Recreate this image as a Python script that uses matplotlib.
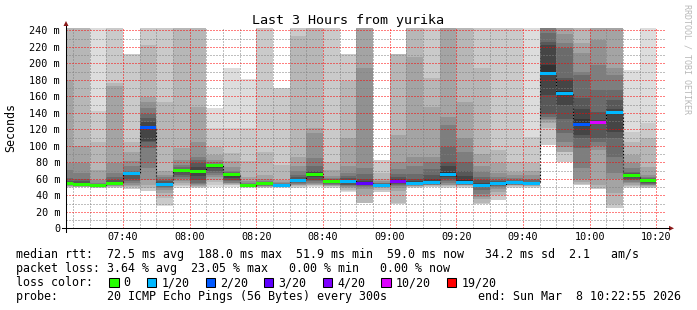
import numpy as np
import matplotlib
matplotlib.use('Agg')
import matplotlib.pyplot as plt
from matplotlib.lines import Line2D
from matplotlib.patches import Polygon, Rectangle

W, H = 697, 310
plt.rcParams['font.family'] = 'DejaVu Sans Mono'

# time axis in minutes after 07:00, graph covers 07:22:55 .. 10:22:55
t_start, t_end = 22 + 55 / 60, 202 + 55 / 60
step_start = np.arange(20, 200, 5)          # one 5 minute step per column
y_top = 242.4

# 20 sorted ping times per step (ms); 300 = above the top of the graph
pings = [
    [49.3, 50, 50.5, 51, 51.5, 52, 52.5, 53, 53.5, 54.5, 55, 55.5, 57.4, 60.6, 70.7, 78.8, 180, 300, 300, 300],
    [49.5, 50, 50.2, 50.5, 50.7, 51, 51.2, 51.5, 52, 52.5, 53.5, 55, 57, 60, 67, 79, 100, 300, 300, 300],
    [48.5, 49, 49.5, 50, 50.5, 50.8, 51, 51.2, 51.4, 51.7, 52, 52.3, 52.8, 53.5, 55, 58, 71, 105, 142.6, 300],
    [48.5, 49.5, 50, 51, 51.5, 52, 53, 53.5, 54, 54.5, 55, 56, 58, 62, 67, 79, 172, 176, 300, 300],
    [47.7, 47.7, 49.5, 51, 53, 55, 57, 60, 64, 66.7, 67, 67.5, 68, 70, 75, 81, 92, 105, 211, 211],
    [45.6, 45.6, 48.5, 52.5, 58.5, 72.7, 97, 104, 106, 122.4, 124, 129.3, 134, 138, 145.4, 152.6, 159.6, 222, 300, 300],
    [27, 28.3, 36.4, 43, 47, 49, 50.5, 51.5, 52.5, 53.3, 54, 55, 57, 59, 62, 65, 69, 152.7, 300, 300],
    [48.5, 51, 53, 55, 57, 60, 62, 65, 68, 69.9, 70.5, 71, 72, 74, 77, 83, 97, 300, 300, 300],
    [49.3, 50, 50.5, 51.5, 52.5, 53.5, 55, 58, 63, 69, 70.5, 74, 79, 83, 87, 105, 146.6, 300, 300, 300],
    [50.4, 53, 56.5, 59, 62, 64.6, 67, 70, 73, 75.9, 76.2, 76.5, 77, 78, 80, 83, 88.9, 99, 121.2, 145.4],
    [50.5, 52, 53, 54, 54.5, 55, 57, 59, 61, 65, 65.3, 65.7, 66.5, 68, 70, 74, 81, 91, 121, 193.9],
    [49.3, 49.5, 49.7, 49.9, 50.1, 50.3, 50.5, 50.8, 51, 51.3, 51.5, 51.8, 52.3, 53, 54.5, 57, 62.6, 81, 121, 180.6],
    [49, 49.5, 50, 50.5, 51, 51.5, 52, 52.5, 53, 53.7, 54, 54.5, 55, 56, 57.5, 60, 64.6, 92.9, 300, 300],
    [49, 49.5, 50, 50.4, 50.7, 51, 51.2, 51.5, 51.8, 52.1, 52.4, 52.8, 53.3, 54, 55, 56, 58.6, 76.8, 169.7, 169.7],
    [49.3, 50, 51, 52, 53, 54, 55, 56, 57, 58.2, 59, 60, 62, 65, 70, 75, 86.9, 233.5, 300, 300],
    [50.5, 51, 52, 53, 54, 55, 57, 59, 62, 65.8, 66.5, 68, 70, 75, 85, 115, 121, 300, 300, 300],
    [49, 50, 51, 51.5, 52, 53, 54, 55, 56, 57, 57.3, 57.8, 58.5, 59.5, 61, 63, 71, 80.8, 300, 300],
    [44, 45, 47, 49, 50, 51, 52, 53, 55, 57, 58, 59, 61, 63, 67, 75, 109, 178.6, 210.9, 210.9],
    [30.3, 30.3, 30.3, 40, 48, 50.5, 51.5, 52.5, 53.5, 54.5, 55.5, 57, 60, 66, 73.5, 194.7, 300, 300, 300, 300],
    [44, 44.4, 47, 48.5, 49.5, 50, 50.5, 51, 51.5, 52.1, 52.5, 53, 53.5, 54.5, 55.5, 57, 60, 66.7, 82.8, 82.8],
    [29.5, 29.5, 30.3, 45, 49, 51, 52.5, 54, 55.5, 57.3, 58.5, 60, 62, 66, 72, 80.8, 113, 210.9, 210.9, 210.9],
    [49, 50, 50.5, 51, 51.5, 52, 52.5, 53, 53.5, 54.5, 55.5, 57, 60, 66, 76, 86.9, 208, 300, 300, 300],
    [50, 50.5, 51.5, 52, 52.5, 53, 53.5, 54, 54.5, 55.3, 57, 60, 64.5, 72, 80, 86.9, 147.5, 181.8, 300, 300],
    [49, 50, 51, 52, 53, 55, 57, 60, 62, 65.4, 68.5, 75, 80.8, 99, 125, 135.3, 300, 300, 300, 300],
    [49, 50, 51, 52, 52.5, 53, 53.5, 54, 54.5, 55.3, 58, 63, 70, 80, 92.9, 109, 153.5, 300, 300, 300],
    [29.1, 29.1, 31, 36, 38.4, 42, 47, 50, 51.3, 52.1, 53, 55, 58, 62, 68, 75, 89.7, 194.7, 300, 300],
    [34.3, 34.3, 40, 44, 48, 50, 51, 52, 53, 53.7, 54.5, 55.5, 57, 59, 62, 66.7, 78.8, 95, 300, 300],
    [49, 50, 51, 52, 52.5, 53, 53.5, 54, 54.5, 55.3, 55.8, 56.5, 57.5, 59, 61, 64, 68.7, 80.8, 300, 300],
    [49, 50, 51, 51.5, 52, 52.5, 53, 53.5, 54, 54.5, 55, 55.5, 56.5, 58, 60, 64, 70, 78.8, 111, 300],
    [101, 101, 121, 128, 131, 133, 135.5, 138, 161.6, 187.9, 198, 222, 226, 236.3, 300, 300, 300, 300, 300, 300],
    [80, 80.8, 92, 93, 99, 105, 115, 133, 149.5, 162.8, 166, 180, 181.8, 218, 224, 236, 300, 300, 300, 300],
    [52.5, 52.5, 54, 56, 60, 73, 97, 109, 113, 125.5, 133, 145, 158, 186, 190, 212, 224, 300, 300, 300],
    [48, 48, 48.5, 52.5, 95, 100, 104, 109, 126, 128.1, 129, 131, 141.4, 167.7, 198, 228, 300, 300, 300, 300],
    [24, 24.2, 30, 42.4, 60, 66.7, 86.9, 110, 117, 140, 142, 145, 155.5, 168, 186, 194, 300, 300, 300, 300],
    [48.5, 50, 51.5, 53, 54.5, 56, 58, 60, 62, 63.6, 64.2, 65, 66.5, 68.7, 72.7, 78.8, 88.9, 105, 117.2, 191.9],
    [48.5, 49, 50, 51, 52, 53, 54, 55.5, 57, 58.6, 59, 59.5, 60, 61, 62, 64.6, 74.7, 109, 127.3, 300],
]
medians = [54.5, 52.5, 51.7, 54.5, 66.7, 122.4, 53.3, 69.9, 69, 75.9, 65, 51.3, 53.7, 52.1, 58.2, 65.8,
           57, 57, 54.5, 52.1, 57.3, 54, 55.3, 65.4, 55.3, 52.1, 53.7, 55.3, 54.5, 187.9, 162.8, 125.6,
           128.5, 140.2, 63.8, 58.5]
lost = [0, 0, 0, 0, 1, 2, 1, 0, 0, 0, 0, 0, 0, 1, 1, 0, 0, 1, 3, 1, 4, 1, 1, 1, 1, 1, 1, 1, 1, 1,
        1, 2, 10, 1, 0, 0]

loss_levels = [0, 1, 2, 3, 4, 10, 19]
loss_labels = ['0', '1/20', '2/20', '3/20', '4/20', '10/20', '19/20']
loss_colors = ['#26ff00', '#00b8ff', '#0059ff', '#5e00ff', '#7e00ff', '#dd00ff', '#ff0000']

x_major = np.arange(40, 201, 20)
x_labels = ['07:40', '08:00', '08:20', '08:40', '09:00', '09:20', '09:40', '10:00', '10:20']
y_major = np.arange(0, 241, 20)

legend_lines = [
    'median rtt:  72.5 ms avg  188.0 ms max  51.9 ms min  59.0 ms now   34.2 ms sd  2.1   am/s',
    'packet loss: 3.64 % avg  23.05 % max   0.00 % min   0.00 % now',
    'loss color:',
    'probe:       20 ICMP Echo Pings (56 Bytes) every 300s',
]
end_text = 'end: Sun Mar  8 10:22:55 2026'


def fx(x):
    return x / W


def fy(y):
    return 1 - y / H


def color_for(n):
    c = loss_colors[0]
    for lvl, col in zip(loss_levels, loss_colors):
        if n >= lvl:
            c = col
    return c


fig = plt.figure(figsize=(W / 100, H / 100), dpi=100, facecolor='white')
ax = fig.add_axes([fx(66), fy(228.3), 600 / W, 200 / H])

# smoke: band i spans ping i .. ping 21-i, darker towards the middle
p = np.array(pings)
for b in range(10):
    g = (19 * (9 - b) + 50) / 255
    lo, hi = p[:, b], p[:, 19 - b]
    ax.bar(step_start, hi - lo, bottom=lo, width=5, align='edge', color=(g, g, g),
           linewidth=0, antialiased=False, zorder=1)

ax.stairs(medians, np.append(step_start, 200), baseline=None, color='black', lw=0.8,
          ls=(0, (1.5, 1.5)), zorder=2)

mh = 3 * y_top / 200
ax.bar(step_start, mh, bottom=np.array(medians) - mh / 2, width=5, align='edge',
       color=[color_for(n) for n in lost], linewidth=0, antialiased=False, zorder=3)

ax.set_xlim(t_start, t_end)
ax.set_ylim(0, y_top)
ax.set_xticks(x_major)
ax.set_xticklabels(x_labels)
ax.set_xticks(np.arange(25, 201, 5), minor=True)
ax.set_yticks(y_major)
ax.set_yticklabels([f'{v} m' if v else '0' for v in y_major])
ax.set_yticks(np.arange(10, 241, 10), minor=True)
ax.set_axisbelow(False)
ax.grid(which='minor', color=(0.5, 0.5, 0.5, 0.4), lw=0.72, ls=(0, (1, 2)))
ax.grid(which='major', color=(1, 0, 0, 0.35), lw=0.72, ls=(0, (1, 2)))
ax.tick_params(which='both', length=0)
ax.tick_params(axis='y', labelsize=7.3, pad=4.3)
ax.tick_params(axis='x', labelsize=7.3, pad=3)
for s in ax.spines.values():
    s.set_visible(False)

# axes with arrow heads
arrow = '#8b1a1a'
fig.add_artist(Line2D([fx(62), fx(669)], [fy(228.3), fy(228.3)], color='black', lw=0.75))
fig.add_artist(Line2D([fx(66), fx(66)], [fy(232), fy(26)], color='black', lw=0.75))
fig.add_artist(Polygon([(fx(669), fy(225.8)), (fx(674), fy(228.3)), (fx(669), fy(230.8))],
                       closed=True, color=arrow, lw=0))
fig.add_artist(Polygon([(fx(63.5), fy(26)), (fx(66), fy(21)), (fx(68.5), fy(26))],
                       closed=True, color=arrow, lw=0))

fig.text(0.5, fy(24), 'Last 3 Hours from yurika', ha='center', va='baseline', fontsize=9.6)
fig.text(fx(11), fy(128), 'Seconds', rotation=90, ha='center', va='center', fontsize=8.4)
fig.text(fx(687.5), fy(4), 'RRDTOOL / TOBI OETIKER', rotation=270, ha='center', va='top',
         fontsize=6, color='#b8b8b8')

baselines = [258.3, 272.3, 286.3, 300.3]
for txt, yb in zip(legend_lines, baselines):
    fig.text(fx(16), fy(yb), txt, ha='left', va='baseline', fontsize=8.37)
fig.text(fx(681), fy(baselines[3]), end_text, ha='right', va='baseline', fontsize=8.37)

# loss colour boxes
char_w = 7.0
bx = 109.3
for lab, col in zip(loss_labels, loss_colors):
    fig.add_artist(Rectangle((fx(bx), fy(287.3)), 9.3 / W, 9.5 / H, facecolor=col,
                             edgecolor='black', lw=0.75))
    fig.text(fx(bx + 14.3), fy(baselines[2]), lab, ha='left', va='baseline', fontsize=8.37)
    bx += 14.3 + len(lab) * char_w + 16.3

fig.savefig('out.png', dpi=100, facecolor='white')
